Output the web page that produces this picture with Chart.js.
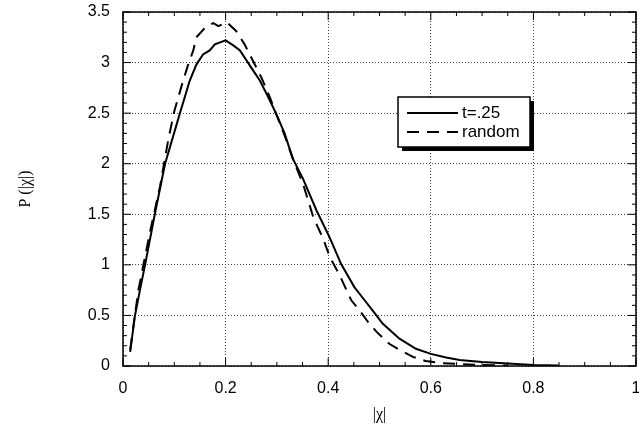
<!DOCTYPE html>
<html>
<head>
<meta charset="utf-8">
<script src="https://cdn.jsdelivr.net/npm/chart.js@4.4.1/dist/chart.umd.min.js"></script>
<style>
  body { margin: 0; background: #fff; }
</style>
</head>
<body>
<canvas id="chart" width="639" height="436"></canvas>
<script>
// P(|chi|) distribution, t=.25 vs random

const solidX = [0.014, 0.023, 0.033, 0.043, 0.062, 0.082, 0.111, 0.130, 0.143, 0.156, 0.169, 0.179, 0.200, 0.215, 0.228, 0.250, 0.267, 0.283, 0.298, 0.315, 0.331, 0.351, 0.377, 0.403, 0.425, 0.451, 0.471, 0.494, 0.506, 0.539, 0.571, 0.600, 0.630, 0.656, 0.700, 0.750, 0.800, 0.850]
const solidY = [0.14, 0.49, 0.75, 1.00, 1.50, 2.00, 2.50, 2.82, 2.98, 3.08, 3.12, 3.18, 3.22, 3.17, 3.12, 2.95, 2.82, 2.66, 2.50, 2.30, 2.05, 1.85, 1.54, 1.27, 1.01, 0.78, 0.65, 0.50, 0.42, 0.27, 0.17, 0.12, 0.085, 0.06, 0.04, 0.025, 0.01, 0.005]

const dashX = [0.014, 0.030, 0.052, 0.072, 0.088, 0.100, 0.116, 0.127, 0.137, 0.143, 0.163, 0.176, 0.186, 0.202, 0.221, 0.237, 0.255, 0.270, 0.286, 0.298, 0.315, 0.331, 0.351, 0.371, 0.390, 0.403, 0.422, 0.445, 0.461, 0.477, 0.494, 0.519, 0.539, 0.565, 0.590, 0.617, 0.656, 0.700, 0.750]
const dashY = [0.16, 0.75, 1.31, 1.77, 2.23, 2.52, 2.80, 2.98, 3.12, 3.25, 3.36, 3.39, 3.36, 3.40, 3.31, 3.18, 3.00, 2.85, 2.66, 2.50, 2.28, 2.05, 1.80, 1.47, 1.26, 1.08, 0.90, 0.65, 0.55, 0.44, 0.34, 0.22, 0.16, 0.09, 0.05, 0.03, 0.02, 0.01, 0.005]

const seriesNames = ['t=.25', 'random']
const xTicks = [0, 0.2, 0.4, 0.6, 0.8, 1]
const yTicks = [0, 0.5, 1, 1.5, 2, 2.5, 3, 3.5]

const toPoints = (xs, ys) => xs.map((x, i) => ({x: x, y: ys[i]}))

// frame + inward ticks on all four sides
const frameTicks = {
  id: 'frameTicks',
  afterDraw(chart) {
    const {ctx, chartArea: a, scales: {x, y}} = chart
    ctx.save()
    ctx.strokeStyle = '#000'
    ctx.lineWidth = 1.5
    ctx.strokeRect(a.left, a.top, a.right - a.left, a.bottom - a.top)
    ctx.lineWidth = 1
    ctx.beginPath()
    for (let i = 0; i <= 20; i++) {
      const v = i * 0.05
      const px = x.getPixelForValue(v)
      const len = i % 4 === 0 ? 8 : 4
      ctx.moveTo(px, a.bottom); ctx.lineTo(px, a.bottom - len)
      ctx.moveTo(px, a.top); ctx.lineTo(px, a.top + len)
    }
    for (let i = 0; i <= 35; i++) {
      const v = i * 0.1
      const py = y.getPixelForValue(v)
      const len = i % 5 === 0 ? 8 : 4
      ctx.moveTo(a.left, py); ctx.lineTo(a.left + len, py)
      ctx.moveTo(a.right, py); ctx.lineTo(a.right - len, py)
    }
    ctx.stroke()
    ctx.restore()
  }
}

// legend box with drop shadow
const shadowLegend = {
  id: 'shadowLegend',
  afterDraw(chart) {
    const ctx = chart.ctx
    const bx = 398, by = 97, bw = 132, bh = 50
    ctx.save()
    ctx.fillStyle = '#000'
    ctx.fillRect(bx + 4, by + 4, bw, bh)
    ctx.fillStyle = '#fff'
    ctx.fillRect(bx, by, bw, bh)
    ctx.strokeStyle = '#000'
    ctx.lineWidth = 1.5
    ctx.strokeRect(bx, by, bw, bh)
    chart.data.datasets.forEach((ds, i) => {
      const ly = by + 16 + i * 19
      ctx.beginPath()
      ctx.lineWidth = 2
      ctx.setLineDash(ds.borderDash || [])
      ctx.moveTo(bx + 9, ly)
      ctx.lineTo(bx + 60, ly)
      ctx.stroke()
      ctx.setLineDash([])
      ctx.fillStyle = '#000'
      ctx.font = '17px "Liberation Sans", Arial, sans-serif'
      ctx.textBaseline = 'middle'
      ctx.fillText(ds.label, bx + 64, ly)
    })
    ctx.restore()
  }
}

const plainLabel = v => String(Math.round(v * 10) / 10)

new Chart(document.getElementById('chart'), {
  type: 'line',
  data: {
    datasets: [{
      label: seriesNames[0],
      data: toPoints(solidX, solidY),
      borderColor: '#000',
      borderWidth: 2,
      pointRadius: 0,
      tension: 0
    }, {
      label: seriesNames[1],
      data: toPoints(dashX, dashY),
      borderColor: '#000',
      borderWidth: 2,
      borderDash: [12, 8],
      pointRadius: 0,
      tension: 0
    }]
  },
  options: {
    responsive: false,
    animation: false,
    layout: { padding: { top: 12, right: 3, left: 0, bottom: 0 } },
    plugins: {
      legend: { display: false },
      tooltip: { enabled: false }
    },
    scales: {
      x: {
        type: 'linear',
        min: 0,
        max: 1,
        afterFit: s => { s.height = 70; s.paddingRight = 0; s.paddingLeft = 0 },
        afterBuildTicks: s => { s.ticks = xTicks.map(v => ({value: v})) },
        grid: { color: '#444', lineWidth: 1, drawTicks: false },
        border: { display: false, dash: [1, 2] },
        ticks: { color: '#000', padding: 13, callback: plainLabel, font: { family: '"Liberation Sans", Arial, sans-serif', size: 16 } },
        title: { display: true, text: '|χ|', color: '#000', padding: 12, font: { family: '"Liberation Serif", "Times New Roman", serif', size: 16 } }
      },
      y: {
        min: 0,
        max: 3.5,
        afterFit: s => { s.width = 123; s.paddingTop = 0; s.paddingBottom = 0 },
        afterBuildTicks: s => { s.ticks = yTicks.map(v => ({value: v})) },
        grid: { color: '#444', lineWidth: 1, drawTicks: false },
        border: { display: false, dash: [1, 2] },
        ticks: { color: '#000', padding: 13, callback: plainLabel, font: { family: '"Liberation Sans", Arial, sans-serif', size: 16 } },
        title: { display: true, text: 'P (|χ|)', color: '#000', padding: 16, font: { family: '"Liberation Serif", "Times New Roman", serif', size: 16 } }
      }
    }
  },
  plugins: [frameTicks, shadowLegend]
})
</script>
</body>
</html>
